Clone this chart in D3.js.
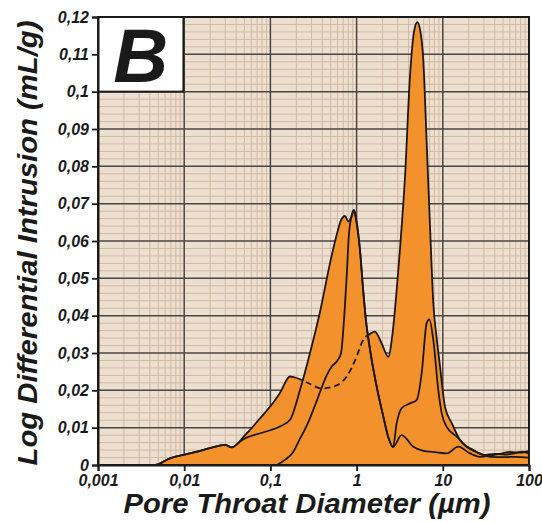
<!DOCTYPE html>
<html><head><meta charset="utf-8">
<script src="https://cdn.jsdelivr.net/npm/d3@7"></script>
<style>
body{margin:0;background:#fff;}
svg{display:block;}
text{font-family:"Liberation Sans",Arial,sans-serif;font-weight:bold;font-style:italic;fill:#1a1a1a;}
</style>
</head><body>
<svg id="c" width="542" height="522"></svg>
<script>
// ---- data ----
const xTickValues = [0.001, 0.01, 0.1, 1, 10, 100];
const xTickLabels = ["0,001", "0,01", "0,1", "1", "10", "100"];
const yTickValues = [0, 0.01, 0.02, 0.03, 0.04, 0.05, 0.06, 0.07, 0.08, 0.09, 0.1, 0.11, 0.12];
const yTickLabels = ["0", "0,01", "0,02", "0,03", "0,04", "0,05", "0,06", "0,07", "0,08", "0,09", "0,1", "0,11", "0,12"];

// sample 1: broad curve with the 5 µm main peak (dashed where hidden)
const diamC1 = [0.004, 0.00458, 0.00684, 0.0107, 0.0153, 0.0199, 0.0297, 0.0356, 0.0421, 0.0481, 0.058, 0.0757, 0.107, 0.129, 0.169, 0.202, 0.239, 0.288, 0.394, 0.537, 0.767, 1.0, 1.15, 1.3, 1.45, 1.63, 1.95, 2.33, 2.64, 2.92, 3.19, 3.64, 4.16, 4.63, 5.06, 5.51, 5.94, 6.5, 7.11, 7.76, 8.49, 9.29, 10.6, 12.7, 15.8, 22.6, 29.5, 40.4, 52.7, 68.8, 83.0, 100];
const valC1  = [0, 0, 0.0018, 0.0029, 0.0038, 0.0045, 0.0054, 0.0047, 0.0058, 0.0074, 0.0094, 0.0125, 0.0166, 0.0193, 0.0237, 0.0233, 0.0226, 0.0217, 0.0205, 0.021, 0.0237, 0.029, 0.0328, 0.0345, 0.0352, 0.0357, 0.0326, 0.029, 0.0362, 0.047, 0.058, 0.077, 0.104, 0.116, 0.1186, 0.116, 0.1085, 0.0863, 0.0638, 0.0434, 0.034, 0.0263, 0.0156, 0.0112, 0.0067, 0.004, 0.0027, 0.003, 0.0028, 0.0032, 0.0036, 0.003];
const dashedFromC1 = 0.2, dashedToC1 = 1.3;

// sample 2: peak at ~0.73 µm
const diamC2 = [0.004, 0.00458, 0.00684, 0.0107, 0.0153, 0.0199, 0.0297, 0.0356, 0.0421, 0.0481, 0.082, 0.129, 0.169, 0.22, 0.288, 0.376, 0.491, 0.593, 0.659, 0.733, 0.801, 0.87, 0.933, 1.0, 1.09, 1.19, 1.28, 1.43, 1.71, 2.04, 2.33, 2.64, 3.33, 4.55, 5.94, 8.49, 11.1, 15.1, 20.7, 27.0, 35.3, 46.1, 60.2, 78.7, 100];
const valC2  = [0, 0, 0.0018, 0.0029, 0.0038, 0.0045, 0.0054, 0.0047, 0.0058, 0.0068, 0.0087, 0.0103, 0.0121, 0.02, 0.03, 0.041, 0.054, 0.062, 0.0655, 0.0667, 0.0652, 0.0664, 0.0682, 0.065, 0.058, 0.047, 0.039, 0.031, 0.021, 0.013, 0.0075, 0.0048, 0.008, 0.0049, 0.0038, 0.0034, 0.0031, 0.0049, 0.0031, 0.0022, 0.0025, 0.003, 0.0035, 0.0033, 0.0038];

// sample 3: starts at 0.12 µm, peaks ~0.93 µm and ~7 µm
const diamC3 = [0.119, 0.15, 0.184, 0.22, 0.27, 0.33, 0.39, 0.45, 0.52, 0.6, 0.66, 0.72, 0.77, 0.81, 0.87, 0.933, 1.0, 1.09, 1.19, 1.28, 1.43, 1.71, 2.04, 2.33, 2.64, 2.92, 3.33, 4.16, 4.98, 5.69, 6.5, 6.97, 7.76, 8.87, 9.71, 11.1, 14.5, 18.9, 27.0, 35.3, 52.7, 68.8, 100];
const valC3  = [0, 0.0015, 0.0035, 0.007, 0.011, 0.016, 0.0205, 0.024, 0.0265, 0.028, 0.03, 0.04, 0.051, 0.061, 0.0665, 0.0683, 0.065, 0.058, 0.047, 0.039, 0.031, 0.021, 0.013, 0.0075, 0.0048, 0.0112, 0.0152, 0.0165, 0.0174, 0.0246, 0.038, 0.039, 0.0335, 0.02, 0.0139, 0.0102, 0.0076, 0.0049, 0.0031, 0.0022, 0.0021, 0.0022, 0.002];

// ---- chart ----
const svg = d3.select("#c");
const L = 98, R = 529, T = 17, B = 465;
const x = d3.scaleLog().domain([0.001, 100]).range([L, R]);
const y = d3.scaleLinear().domain([0, 0.12]).range([B, T]);

const zip = (ds, vs) => ds.map((d, i) => ({d: d, v: vs[i]}));
const s1 = zip(diamC1, valC1), s2 = zip(diamC2, valC2), s3 = zip(diamC3, valC3);

svg.append("rect").attr("x", L).attr("y", T).attr("width", R - L).attr("height", B - T).attr("fill", "#eddfcf");

// minor grid
const minorX = [];
for (let k = -3; k <= 1; k++) for (let m = 2; m <= 9; m++) minorX.push(m * Math.pow(10, k));
const minorY = d3.range(1, 60).map(i => i * 0.002).filter((v, i) => (i + 1) % 5 !== 0);
const g = svg.append("g");
g.selectAll(".mx").data(minorX).join("line")
  .attr("x1", d => x(d)).attr("x2", d => x(d)).attr("y1", T).attr("y2", B)
  .attr("stroke", "#d2b9a2").attr("stroke-width", 1);
g.selectAll(".my").data(minorY).join("line")
  .attr("y1", d => y(d)).attr("y2", d => y(d)).attr("x1", L).attr("x2", R)
  .attr("stroke", "#d2b9a2").attr("stroke-width", 1);
// major grid
g.selectAll(".Mx").data(xTickValues.slice(1, -1)).join("line")
  .attr("x1", d => x(d)).attr("x2", d => x(d)).attr("y1", T).attr("y2", B)
  .attr("stroke", "#4a4540").attr("stroke-width", 1.5);
g.selectAll(".My").data(yTickValues.slice(1, -1)).join("line")
  .attr("y1", d => y(d)).attr("y2", d => y(d)).attr("x1", L).attr("x2", R)
  .attr("stroke", "#4a4540").attr("stroke-width", 1.5);

// areas
const area = d3.area().x(d => x(d.d)).y0(y(0)).y1(d => y(d.v)).curve(d3.curveMonotoneX);
const line = d3.line().x(d => x(d.d)).y(d => y(d.v)).curve(d3.curveMonotoneX);
const orange = "#f3922c";
[s1, s2, s3].forEach(s => {
  svg.append("path").datum(s).attr("d", area).attr("fill", orange);
});
// lines
const stroke = "#1c1714";
svg.append("path")
  .attr("d", line.defined(d => d.d <= dashedFromC1 + 0.003 || d.d >= dashedToC1)(s1))
  .attr("fill", "none").attr("stroke", stroke).attr("stroke-width", 1.8);
svg.append("path")
  .attr("d", line.defined(d => d.d >= dashedFromC1 && d.d <= dashedToC1)(s1))
  .attr("fill", "none").attr("stroke", stroke).attr("stroke-width", 1.8).attr("stroke-dasharray", "6,4");
line.defined(() => true);
[s2, s3].forEach(s => {
  svg.append("path").datum(s).attr("d", line).attr("fill", "none")
    .attr("stroke", stroke).attr("stroke-width", 1.8).attr("stroke-linejoin", "round");
});

// frame
svg.append("rect").attr("x", L).attr("y", T).attr("width", R - L).attr("height", B - T)
  .attr("fill", "none").attr("stroke", "#1a1a1a").attr("stroke-width", 2);

// B box
svg.append("rect").attr("x", L).attr("y", T).attr("width", x(0.0098) - L).attr("height", y(0.1) - T)
  .attr("fill", "#fff").attr("stroke", "#1a1a1a").attr("stroke-width", 2);
svg.append("text").attr("x", (L + x(0.0098)) / 2).attr("y", y(0.1) - 10)
  .attr("text-anchor", "middle").attr("font-size", 76).text("B");

// axes
const yAxis = d3.axisLeft(y).tickValues(yTickValues).tickSize(6).tickPadding(3)
  .tickFormat((d, i) => yTickLabels[i]);
const xAxis = d3.axisBottom(x).tickValues(xTickValues).tickSize(6).tickPadding(4)
  .tickFormat((d, i) => xTickLabels[i]);
const ya = svg.append("g").attr("transform", `translate(${L},0)`).call(yAxis);
const xa = svg.append("g").attr("transform", `translate(0,${B})`).call(xAxis);
[ya, xa].forEach(a => {
  a.select(".domain").attr("stroke", "#1a1a1a").attr("stroke-width", 2);
  a.selectAll(".tick line").attr("stroke", "#1a1a1a").attr("stroke-width", 1.8);
  a.selectAll(".tick text").attr("font-size", 16).attr("fill", "#1a1a1a")
    .style("font-family", '"Liberation Sans",Arial,sans-serif').style("font-weight", "bold").style("font-style", "italic");
});

// titles
svg.append("text").attr("x", 307).attr("y", 513).attr("text-anchor", "middle")
  .attr("font-size", 27).attr("textLength", 367).attr("lengthAdjust", "spacingAndGlyphs")
  .text("Pore Throat Diameter (µm)");
svg.append("text").attr("transform", "translate(37,243) rotate(-90)").attr("text-anchor", "middle")
  .attr("font-size", 27).attr("textLength", 445).attr("lengthAdjust", "spacingAndGlyphs")
  .text("Log Differential Intrusion (mL/g)");
</script>
</body></html>
